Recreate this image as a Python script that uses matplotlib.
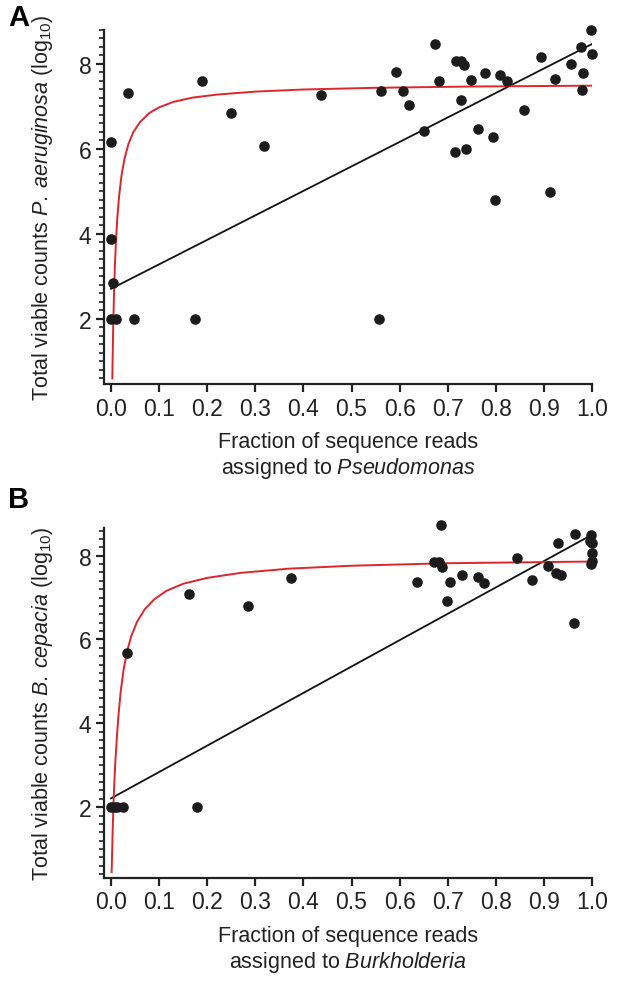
import matplotlib
matplotlib.use("Agg")
import matplotlib.pyplot as plt
from matplotlib.ticker import MultipleLocator, FixedLocator

plt.rcParams['font.family'] = ['Liberation Sans', 'DejaVu Sans']
plt.rcParams['mathtext.fontset'] = 'custom'
plt.rcParams['mathtext.rm'] = 'Liberation Sans'
plt.rcParams['mathtext.it'] = 'Liberation Sans:italic'
plt.rcParams['mathtext.bf'] = 'Liberation Sans:bold'

# ---------------- Panel A data (Pseudomonas) ----------------
a_frac = [0.0, 0.0, 0.005, 0.0, 0.01, 0.036, 0.048, 0.174, 0.189, 0.249, 0.319,
          0.437, 0.558, 0.561, 0.592, 0.608, 0.619, 0.651, 0.673, 0.681, 0.715,
          0.717, 0.727, 0.734, 0.727, 0.739, 0.749, 0.762, 0.777, 0.794, 0.799,
          0.809, 0.823, 0.859, 0.893, 0.912, 0.923, 0.957, 0.978, 0.980, 0.982,
          0.997, 1.0]
a_count = [6.17, 3.88, 2.84, 2.0, 2.0, 7.32, 2.0, 2.0, 7.61, 6.85, 6.07,
           7.28, 2.0, 7.37, 7.80, 7.36, 7.04, 6.43, 8.48, 7.60, 5.94,
           8.08, 8.08, 7.98, 7.15, 6.00, 7.62, 6.48, 7.79, 6.29, 4.79,
           7.73, 7.60, 6.91, 8.17, 4.98, 7.65, 7.99, 8.40, 7.38, 7.78,
           8.80, 8.23]
a_lin_x = [0.0, 1.0]
a_lin_y = [2.71, 8.47]
a_fit_x = [0.0027, 0.0035, 0.0045, 0.006, 0.008, 0.010, 0.013, 0.017, 0.022,
           0.028, 0.036, 0.046, 0.06, 0.08, 0.10, 0.13, 0.17, 0.22, 0.30,
           0.40, 0.55, 0.75, 1.0]
a_fit_y = [0.60, 1.18, 1.79, 2.51, 3.23, 3.77, 4.37, 4.92, 5.39,
           5.77, 6.11, 6.39, 6.63, 6.85, 6.98, 7.11, 7.21, 7.28, 7.35,
           7.40, 7.44, 7.47, 7.49]

# ---------------- Panel B data (Burkholderia) ----------------
b_frac = [0.0, 0.006, 0.012, 0.024, 0.178, 0.033, 0.163, 0.285, 0.375,
          0.637, 0.672, 0.681, 0.686, 0.689, 0.704, 0.699, 0.730, 0.764,
          0.775, 0.845, 0.876, 0.909, 0.930, 0.925, 0.935, 0.964, 0.963,
          0.997, 0.995, 1.0, 1.0, 1.0, 0.998]
b_count = [2.0, 2.0, 2.0, 2.0, 2.0, 5.68, 7.09, 6.79, 7.46,
           7.36, 7.86, 7.86, 8.73, 7.74, 7.38, 6.92, 7.55, 7.48,
           7.35, 7.94, 7.42, 7.76, 8.31, 7.59, 7.54, 8.52, 6.39,
           8.49, 8.35, 8.30, 8.06, 7.88, 7.80]
b_lin_x = [0.0, 1.0]
b_lin_y = [2.21, 8.50]
b_fit_x = [0.0013, 0.002, 0.003, 0.004, 0.005, 0.007, 0.009, 0.012, 0.015,
           0.02, 0.026, 0.033, 0.042, 0.054, 0.07, 0.09, 0.115, 0.15, 0.2,
           0.27, 0.37, 0.5, 0.7, 1.0]
b_fit_y = [0.45, 0.77, 1.25, 1.67, 2.04, 2.62, 3.08, 3.64, 4.12,
           4.75, 5.27, 5.70, 6.08, 6.42, 6.72, 6.96, 7.16, 7.33, 7.47,
           7.59, 7.69, 7.76, 7.82, 7.86]

x_ticks = [0.0, 0.1, 0.2, 0.3, 0.4, 0.5, 0.6, 0.7, 0.8, 0.9, 1.0]
x_labels = ['0.0', '0.1', '0.2', '0.3', '0.4', '0.5', '0.6', '0.7', '0.8', '0.9', '1.0']
y_ticks = [2, 4, 6, 8]

W, H = 635, 987
fig = plt.figure(figsize=(W / 100, H / 100), dpi=100)


def px_axes(left, top, right, bottom):
    return fig.add_axes([left / W, 1 - bottom / H, (right - left) / W, (bottom - top) / H])


axA = px_axes(104, 31, 592, 385)
axB = px_axes(104, 529, 592, 879)

RED = '#e0242c'
DOT = '#1c1c1c'
TXT = '#222222'
FS_TICK = 16.5
FS_LAB = 15.5


def style(ax, ylim, ylabel, genus):
    ax.set_xlim(-0.0146, 1.0)
    ax.set_ylim(*ylim)
    for s in ['top', 'right']:
        ax.spines[s].set_visible(False)
    for s in ['left', 'bottom']:
        ax.spines[s].set_linewidth(1.6)
        ax.spines[s].set_color(TXT)
    ax.xaxis.set_major_locator(FixedLocator(x_ticks))
    ax.set_xticklabels(x_labels)
    ax.yaxis.set_major_locator(FixedLocator(y_ticks))
    ax.yaxis.set_minor_locator(MultipleLocator(0.2))
    ax.tick_params(axis='both', which='major', direction='out', length=6, width=1.6,
                   labelsize=FS_TICK, colors=TXT, pad=3)
    ax.tick_params(axis='y', which='minor', direction='out', length=3.5, width=1.2,
                   colors=TXT)
    ax.set_ylabel(ylabel, fontsize=FS_LAB, color=TXT)
    ax.yaxis.set_label_coords(-0.1, 0.5)
    ax.set_xlabel('Fraction of sequence reads\nassigned to $\\it{' + genus + '}$',
                  fontsize=FS_LAB, color=TXT, linespacing=1.2, labelpad=8)


# Panel A
axA.plot(a_lin_x, a_lin_y, color='#111111', lw=1.3, zorder=2)
axA.plot(a_fit_x, a_fit_y, color=RED, lw=1.4, zorder=3)
axA.scatter(a_frac, a_count, s=58, color=DOT, zorder=4, clip_on=False, linewidths=0)
style(axA, (0.47, 8.80), 'Total viable counts $\\it{P.\\:aeruginosa}$ (log$_{10}$)', 'Pseudomonas')

# Panel B
axB.plot(b_lin_x, b_lin_y, color='#111111', lw=1.3, zorder=2)
axB.plot(b_fit_x, b_fit_y, color=RED, lw=1.4, zorder=3)
axB.scatter(b_frac, b_count, s=58, color=DOT, zorder=4, clip_on=False, linewidths=0)
style(axB, (0.31, 8.66), 'Total viable counts $\\it{B.\\:cepacia}$ (log$_{10}$)', 'Burkholderia')

fig.text(8 / W, 1 - 18 / H, 'A', fontsize=21, fontweight='bold', va='center', ha='left')
fig.text(8 / W, 1 - 500 / H, 'B', fontsize=21, fontweight='bold', va='center', ha='left')

fig.savefig('out.png', dpi=100)
